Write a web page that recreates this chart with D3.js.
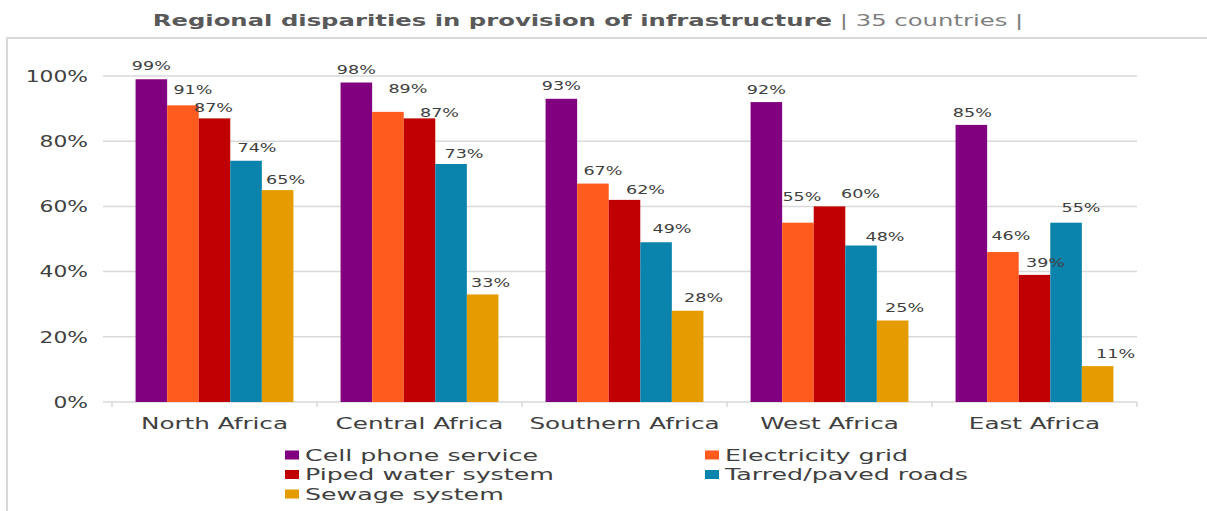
<!DOCTYPE html>
<html>
<head>
<meta charset="utf-8">
<script src="https://cdn.jsdelivr.net/npm/d3@7"></script>
<style>
  html, body { margin: 0; padding: 0; background: #ffffff; }
  svg { display: block; font-family: "DejaVu Sans", sans-serif; }
</style>
</head>
<body>
<svg id="chart" width="1207" height="511"></svg>
<script>
// Regions (x categories)
const regions = ["North Africa", "Central Africa", "Southern Africa", "West Africa", "East Africa"];

// Infrastructure types (series)
const services = ["Cell phone service", "Electricity grid", "Piped water system", "Tarred/paved roads", "Sewage system"];

// Share of population with access, % (one array per service, in region order)
const cellPhone   = [99, 98, 93, 92, 85];
const electricity = [91, 89, 67, 55, 46];
const pipedWater  = [87, 87, 62, 60, 39];
const roads       = [74, 73, 49, 48, 55];
const sewage      = [65, 33, 28, 25, 11];

// Value axis ticks
const yTicks = [0, 20, 40, 60, 80, 100];

const seriesValues = [cellPhone, electricity, pipedWater, roads, sewage];
const palette = ["#800080", "#FF5B1F", "#C00000", "#0A84AD", "#E59C00"];

// Hand-placed nudges for the value labels [dx, dy], per region then per service
const labelNudge = [
  [[0, -1], [10, -3], [-1, 2], [11, 0], [8, 2]],
  [[0, 0], [20, -11], [20, 7], [13, 2], [8, 1]],
  [[0, -1], [10, 0], [21, 2], [16, -1], [16, 0]],
  [[0, 0], [4, -13], [31, 0], [24, 4], [12, 0]],
  [[1, 0], [8, -4], [11, 0], [15, -2], [18, 0]]
];

const svg = d3.select("#chart");
const textColor = "#404040";
const gridColor = "#d9d9d9";

// Wide geometric lettering: stretch each label horizontally
function widen(sel, k) {
  sel.each(function () {
    const w = this.getComputedTextLength();
    d3.select(this).attr("textLength", w * k).attr("lengthAdjust", "spacingAndGlyphs");
  });
}

// Outer frame (left and top edges)
svg.append("path")
  .attr("d", "M7,511 V38 H1207")
  .attr("fill", "none")
  .attr("stroke", gridColor)
  .attr("stroke-width", 2);

// Title
const title = svg.append("text")
  .attr("x", 588).attr("y", 26)
  .attr("text-anchor", "middle")
  .attr("font-size", 16);
title.append("tspan").attr("font-weight", "bold").attr("fill", "#595959")
  .text("Regional disparities in provision of infrastructure");
title.append("tspan").attr("fill", "#7f7f7f").text("  |  35 countries  |");
widen(title, 1.52);

// Scales
const x0 = d3.scaleBand().domain(regions).range([112, 1137]).paddingInner(0.23).paddingOuter(0.115);
const x1 = d3.scaleBand().domain(d3.range(services.length)).range([0, x0.bandwidth()]).padding(0);
const y = d3.scaleLinear().domain([0, 100]).range([402, 76]);

// Gridlines
svg.append("g").selectAll("line").data(yTicks).join("line")
  .attr("x1", 103).attr("x2", 1137)
  .attr("y1", d => y(d)).attr("y2", d => y(d))
  .attr("stroke", gridColor).attr("stroke-width", 1.5);

// Y tick labels
const yLab = svg.append("g").selectAll("text").data(yTicks).join("text")
  .attr("x", 88).attr("y", d => y(d)).attr("dy", "0.36em")
  .attr("text-anchor", "end")
  .attr("font-size", 16).attr("fill", textColor)
  .text(d => d + "%");
widen(yLab, 1.36);

// Category axis with boundary ticks
const bounds = regions.map(r => x0(r) - x0.step() * x0.paddingInner() / 2);
bounds[0] = x0.range()[0];
bounds.push(x0.range()[1]);
svg.append("g").selectAll("line").data(bounds).join("line")
  .attr("x1", d => d).attr("x2", d => d)
  .attr("y1", 402).attr("y2", 407)
  .attr("stroke", gridColor).attr("stroke-width", 1.5);

const xLab = svg.append("g").selectAll("text").data(regions).join("text")
  .attr("x", d => x0(d) + x0.bandwidth() / 2).attr("y", 429)
  .attr("text-anchor", "middle")
  .attr("font-size", 16).attr("fill", textColor)
  .text(d => d);
widen(xLab, 1.54);

// Bars
const cells = [];
regions.forEach((r, ri) => {
  services.forEach((s, si) => {
    cells.push({ region: r, ri, si, value: seriesValues[si][ri] });
  });
});

svg.append("g").selectAll("rect").data(cells).join("rect")
  .attr("x", d => x0(d.region) + x1(d.si))
  .attr("y", d => y(d.value))
  .attr("width", x1.bandwidth())
  .attr("height", d => y(0) - y(d.value))
  .attr("fill", d => palette[d.si]);

// Value labels
const vLab = svg.append("g").selectAll("text").data(cells).join("text")
  .attr("x", d => x0(d.region) + x1(d.si) + x1.bandwidth() / 2 + labelNudge[d.ri][d.si][0])
  .attr("y", d => y(d.value) - 13 + labelNudge[d.ri][d.si][1])
  .attr("dy", "0.36em")
  .attr("text-anchor", "middle")
  .attr("font-size", 13).attr("fill", textColor)
  .text(d => d.value + "%");
widen(vLab, 1.35);

// Legend: two columns, filled row by row
const legendCols = [285, 705];
const legendTop = 455;
const legendStep = 19.5;
const leg = svg.append("g").selectAll("g").data(services).join("g")
  .attr("transform", (d, i) => `translate(${legendCols[i % 2]},${legendTop + Math.floor(i / 2) * legendStep})`);
leg.append("rect")
  .attr("x", 0).attr("y", -4.5).attr("width", 14).attr("height", 9)
  .attr("fill", (d, i) => palette[i]);
const legText = leg.append("text")
  .attr("x", 20).attr("y", 0).attr("dy", "0.36em")
  .attr("font-size", 16).attr("fill", textColor)
  .text(d => d);
widen(legText, 1.58);
</script>
</body>
</html>
